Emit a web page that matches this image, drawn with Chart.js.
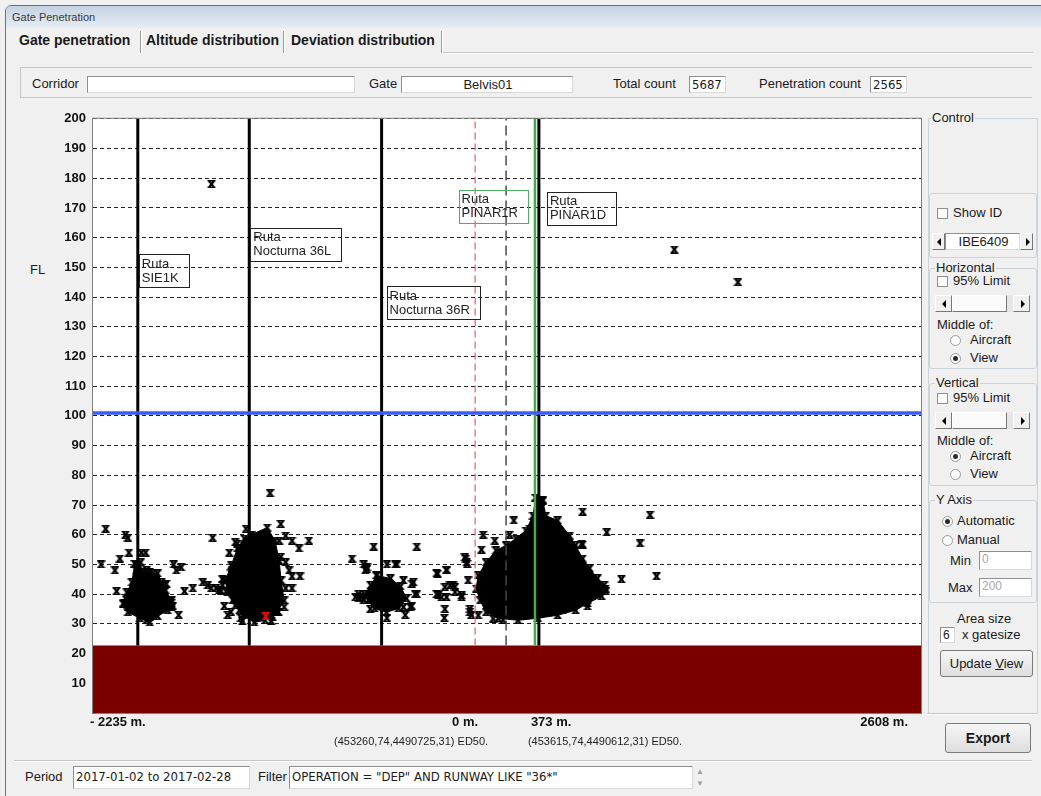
<!DOCTYPE html>
<html>
<head>
<meta charset="utf-8">
<script src="https://cdn.jsdelivr.net/npm/chart.js@4.4.1/dist/chart.umd.min.js"></script>
<style>
  html, body { margin: 0; padding: 0; }
  body { width: 1041px; height: 796px; overflow: hidden; background: #f0f0f0; position: relative;
         font-family: 'Liberation Sans', Arial, sans-serif; color: #1a1a1a; }
  .t { position: absolute; font-size: 13px; line-height: 16px; white-space: nowrap; }
  .b { font-weight: bold; }
  .n { font-family: 'Liberation Sans Narrow', 'DejaVu Sans Condensed', sans-serif; }
  .box { position: absolute; background: #fff; border: 1px solid #8f8f8f; border-right-color: #d8d8d8;
         border-bottom-color: #d8d8d8; box-sizing: border-box; font-size: 12px; line-height: 15px;
         white-space: nowrap; overflow: hidden; padding-left: 2px; }
  .grp { position: absolute; border: 1px solid #cdd4d9; border-radius: 3px; box-sizing: border-box; }
  .leg { position: absolute; background: #f0f0f0; font-size: 13px; line-height: 14px; padding: 0 1px; }
  .sep { position: absolute; width: 0; border-left: 1px solid #9a9a9a; border-right: 1px solid #fff; }
  .chk { position: absolute; width: 11px; height: 11px; background: #fff; border: 1px solid #8e8f8f; box-sizing: border-box; }
  .rad { position: absolute; width: 11px; height: 11px; border-radius: 50%; background: #fbfbfb;
         border: 1px solid #9a9a9a; box-sizing: border-box; }
  .rad.on::after { content: ''; position: absolute; left: 2px; top: 2px; width: 5px; height: 5px;
                   border-radius: 50%; background: #2b2b2b; }
  .btn { position: absolute; box-sizing: border-box; border: 1px solid #7a7a7a; border-radius: 3px;
         background: linear-gradient(#f6f6f6, #dedede); text-align: center; }
  .arr { position: absolute; box-sizing: border-box; background: #f0f0f0; border: 1px solid #fff;
         border-right-color: #777; border-bottom-color: #777; }
  .arr i { position: absolute; top: 50%; left: 50%; width: 0; height: 0; margin-top: -4px;
           border-top: 4px solid transparent; border-bottom: 4px solid transparent; }
  .arr i.l { margin-left: -2px; border-right: 4px solid #000; }
  .arr i.r { margin-left: -1px; border-left: 4px solid #000; }
  .hl { position: absolute; height: 0; border-top: 1px solid #c5c5c5; border-bottom: 1px solid #fff; }
  #chartBox { position: absolute; left: 20px; top: 104px; width: 906px; height: 654px; }
</style>
</head>
<body>
<!-- window frame and title -->
<div style="position:absolute;left:5px;top:5px;width:1040px;height:795px;border:1px solid #6a7480;border-top-left-radius:6px;box-sizing:border-box;"></div>
<div style="position:absolute;left:6px;top:6px;width:1035px;height:22px;border-top-left-radius:5px;background:linear-gradient(#c4d2e2,#e6ecf3);"></div>
<div class="t" style="left:12px;top:9px;font-size:11px;color:#3a3a3a;">Gate Penetration</div>

<!-- tabs -->
<div class="t b" style="left:19px;top:32px;font-size:14px;">Gate penetration</div>
<div class="sep" style="left:140px;top:31px;height:22px;"></div>
<div class="t b" style="left:146px;top:32px;font-size:14px;">Altitude distribution</div>
<div class="sep" style="left:283px;top:31px;height:22px;"></div>
<div class="t b" style="left:291px;top:32px;font-size:14px;">Deviation distribution</div>
<div class="sep" style="left:441px;top:31px;height:22px;"></div>
<div class="hl" style="left:443px;top:52px;width:590px;"></div>

<!-- header fields -->
<div style="position:absolute;left:20px;top:67px;width:1012px;height:31px;border:1px solid #c8c8c8;border-right:none;box-sizing:border-box;"></div>
<div class="t" style="left:32px;top:76px;">Corridor</div>
<div class="box" style="left:87px;top:76px;width:268px;height:17px;"></div>
<div class="t" style="left:369px;top:76px;">Gate</div>
<div class="box" style="left:401px;top:76px;width:172px;height:17px;text-align:center;font-size:13px;">Belvis01</div>
<div class="t" style="left:613px;top:76px;">Total count</div>
<div class="box n" style="left:689px;top:76px;width:37px;height:17px;font-size:13px;">5687</div>
<div class="t" style="left:759px;top:76px;">Penetration count</div>
<div class="box n" style="left:870px;top:76px;width:37px;height:17px;font-size:13px;">2565</div>

<div class="t" style="left:30px;top:262px;">FL</div>

<div id="chartBox"><canvas id="gateChart" width="906" height="654"></canvas></div>

<!-- control panel -->
<div class="grp" style="left:928px;top:118px;width:110px;height:596px;border-radius:0;"></div>
<div class="leg" style="left:931px;top:111px;">Control</div>

<div class="grp" style="left:929px;top:193px;width:108px;height:65px;"></div>
<div class="chk" style="left:937px;top:208px;"></div>
<div class="t" style="left:953px;top:205px;">Show ID</div>
<div class="arr" style="left:932px;top:233px;width:13px;height:17px;"><i class="l"></i></div>
<div class="box" style="left:945px;top:233px;width:75px;height:17px;text-align:center;font-size:13px;">IBE6409</div>
<div class="arr" style="left:1020px;top:233px;width:13px;height:17px;"><i class="r"></i></div>

<div class="grp" style="left:929px;top:268px;width:108px;height:101px;"></div>
<div class="leg" style="left:935px;top:261px;">Horizontal</div>
<div class="chk" style="left:937px;top:276px;"></div>
<div class="t" style="left:953px;top:273px;">95% Limit</div>
<div class="arr" style="left:935px;top:295px;width:17px;height:17px;"><i class="l"></i></div>
<div class="arr" style="left:952px;top:295px;width:55px;height:17px;background:#fafafa;"></div>
<div style="position:absolute;left:1007px;top:295px;width:6px;height:17px;background:#e6e6e6;"></div>
<div class="arr" style="left:1013px;top:295px;width:17px;height:17px;"><i class="r"></i></div>
<div class="t" style="left:937px;top:317px;">Middle of:</div>
<div class="rad" style="left:950px;top:335px;"></div>
<div class="t" style="left:970px;top:332px;">Aircraft</div>
<div class="rad on" style="left:950px;top:353px;"></div>
<div class="t" style="left:970px;top:350px;">View</div>

<div class="grp" style="left:929px;top:383px;width:108px;height:103px;"></div>
<div class="leg" style="left:935px;top:376px;">Vertical</div>
<div class="chk" style="left:937px;top:393px;"></div>
<div class="t" style="left:953px;top:390px;">95% Limit</div>
<div class="arr" style="left:935px;top:412px;width:17px;height:17px;"><i class="l"></i></div>
<div class="arr" style="left:952px;top:412px;width:55px;height:17px;background:#fafafa;"></div>
<div style="position:absolute;left:1007px;top:412px;width:6px;height:17px;background:#e6e6e6;"></div>
<div class="arr" style="left:1013px;top:412px;width:17px;height:17px;"><i class="r"></i></div>
<div class="t" style="left:937px;top:433px;">Middle of:</div>
<div class="rad on" style="left:950px;top:451px;"></div>
<div class="t" style="left:970px;top:448px;">Aircraft</div>
<div class="rad" style="left:950px;top:469px;"></div>
<div class="t" style="left:970px;top:466px;">View</div>

<div class="grp" style="left:929px;top:500px;width:108px;height:103px;"></div>
<div class="leg" style="left:935px;top:493px;">Y Axis</div>
<div class="rad on" style="left:942px;top:516px;"></div>
<div class="t" style="left:957px;top:513px;">Automatic</div>
<div class="rad" style="left:942px;top:535px;"></div>
<div class="t" style="left:957px;top:532px;">Manual</div>
<div class="t" style="left:950px;top:553px;">Min</div>
<div class="box" style="left:979px;top:551px;width:53px;height:19px;color:#a8a8a8;">0</div>
<div class="t" style="left:948px;top:580px;">Max</div>
<div class="box" style="left:979px;top:578px;width:53px;height:19px;color:#a8a8a8;">200</div>

<div class="t" style="left:957px;top:611px;">Area size</div>
<div class="box" style="left:940px;top:627px;width:15px;height:16px;">6</div>
<div class="t" style="left:962px;top:627px;">x gatesize</div>
<div class="btn t" style="left:940px;top:650px;width:93px;height:27px;line-height:25px;">Update <u>V</u>iew</div>
<div class="hl" style="left:927px;top:713px;width:110px;"></div>

<div class="btn t b" style="left:945px;top:723px;width:86px;height:30px;line-height:28px;font-size:14px;">Export</div>

<!-- bottom filter row -->
<div class="hl" style="left:14px;top:760px;width:1018px;"></div>
<div class="t" style="left:25px;top:769px;">Period</div>
<div class="box n" style="left:73px;top:766px;width:177px;height:23px;line-height:20px;font-size:13px;">2017-01-02 to 2017-02-28</div>
<div class="t" style="left:258px;top:769px;">Filter</div>
<div class="box n" style="left:289px;top:766px;width:404px;height:23px;line-height:20px;font-size:13px;">OPERATION = "DEP" AND RUNWAY LIKE "36*"</div>
<div class="t" style="left:696px;top:764px;font-size:8px;color:#a0a0a0;">&#9650;</div>
<div class="t" style="left:696px;top:776px;font-size:8px;color:#a0a0a0;">&#9660;</div>

<script>
// axis extent (metres from gate, flight level)
const xMin = -2235;
const xMax = 2608;
const flMax = 200;
const xTickValues = [-2235, 0, 373, 2608];
const xTickLabels = ['- 2235 m.', '0 m.', '373 m.', '2608 m.'];
const gateCoords = ['(453260,74,4490725,31) ED50.', '(453615,74,4490612,31) ED50.'];

// terrain / limits
const groundFL = 22.7;
const limitFL = 101;

// route centre lines
const routeNames = ['SIE1K', 'Nocturna 36L', 'Nocturna 36R', 'PINAR1R', 'PINAR1D'];
const routeX = [-1973, -1321, -547, 350, 373];
const routeLabelFL = [154.4, 163.4, 143.6, 176.2, 175.5];
const gateX = 0;
const gateMidX = 181;

// dense cores of the penetration clusters (outline, metres / FL)
const coreSIE = [[-1990, 50.3], [-1956, 50.7], [-1950, 47.3], [-1857, 47], [-1834, 44], [-1810, 41.3],
  [-1775, 37.9], [-1798, 34.6], [-1857, 32.6], [-1903, 30.5], [-1961, 31.9], [-2031, 33.9],
  [-2055, 36.9], [-2037, 40.6], [-2008, 44]];
const core36L = [[-1310, 60], [-1216, 62.4], [-1170, 58], [-1146, 51.3], [-1135, 44.6], [-1117, 37.9],
  [-1158, 33.9], [-1228, 31.2], [-1292, 30.5], [-1356, 32.9], [-1403, 36.2], [-1449, 40.6],
  [-1461, 44.6], [-1426, 49.7], [-1391, 55.4], [-1350, 58.7]];
const core36R = [[-576, 46.3], [-495, 45.3], [-436, 42.6], [-401, 38.6], [-448, 35.2], [-518, 33.9],
  [-588, 35.2], [-623, 37.9], [-646, 39.9], [-611, 43]];
const corePINAR = [[355, 72.5], [396, 71.5], [414, 66.4], [483, 64.8], [553, 59.7], [588, 56.4],
  [629, 52], [670, 48.7], [716, 45.3], [763, 41.9], [740, 39.3], [658, 36.9], [588, 34.6],
  [483, 32.9], [367, 31.9], [251, 31.2], [134, 31.9], [64, 33.9], [29, 37.9], [6, 41.9],
  [18, 46.3], [64, 50.7], [122, 54.7], [181, 56.4], [239, 58.7], [297, 61.4], [338, 66.4]];

// individual penetrations outside the cores
const penetrations = [
  [-2161, 62], [-2188, 50], [-2107, 48], [-2097, 41], [-2078, 52], [-2045, 60], [-2031, 59], [-2025, 54],
  [-1952, 54], [-1927, 54], [-1763, 50], [-1748, 48], [-1719, 49], [-1734, 33], [-1700, 41], [-1651, 42],
  [-1816, 43], [-1777, 37], [-1768, 36], [-2039, 38], [-2030, 35.7], [-2059, 36.8], [-1922, 31.2],
  [-1903, 32.3], [-1787, 38], [-1777, 35.7], [-1845, 41.3], [-1806, 43.5], [-1942, 46.9], [-1922, 48],
  [-1903, 47.4], [-1884, 47], [-1981, 48],
  [-1593, 44], [-1564, 43], [-1544, 42], [-1515, 42], [-1496, 41.5], [-1477, 43], [-1486, 41], [-1457, 41],
  [-1535, 59], [-1438, 54], [-1467, 36], [-1447, 33],
  [-1403, 57.5], [-1391, 57], [-1340, 62], [-1428, 47], [-1420, 48], [-1479, 45], [-1428, 34], [-1370, 32],
  [-1362, 31], [-1199, 74], [-1137, 63.6], [-1108, 59.7], [-1071, 58], [-1030, 55.4], [-972, 58],
  [-1024, 46], [-1108, 42], [-1071, 42], [-1117, 35.7], [-1150, 34], [-1071, 46], [-1088, 48], [-1108, 50.7],
  [-1193, 31], [-1379, 52.5], [-1399, 49], [-1409, 43.5], [-1418, 38], [-1379, 34.6], [-1146, 58],
  [-1137, 52.5], [-1156, 38], [-1185, 32.3],
  [-720, 52], [-700, 39], [-681, 38.6], [-652, 38], [-642, 48], [-632, 49], [-593, 56], [-613, 35],
  [-467, 50], [-419, 44.6], [-370, 43.5], [-419, 35.7], [-370, 36], [-409, 33], [-351, 40], [-341, 56],
  [-516, 50], [-457, 50], [-361, 44], [-225, 47], [-167, 48], [-681, 40], [-662, 39], [-623, 38],
  [-516, 32], [-380, 35.7], [-341, 40], [-225, 40], [-196, 39], [-167, 39], [-177, 42.4], [-128, 43],
  [-118, 40.7], [-177, 35], [-180, 32], [-79, 39.6], [-60, 52.4], [-50, 50.7], [-41, 44.6], [-31, 35],
  [-22, 33], [-652, 50], [-633, 48.5],
  [396, 71.7], [629, 67.8], [1023, 66.7], [226, 64.8], [319, 62], [770, 60.8], [47, 60], [202, 60],
  [965, 57.1], [115, 58], [37, 55], [629, 56.7], [623, 57], [-54, 52], [-46, 50.2], [-167, 48.2],
  [-219, 46.9], [856, 45], [1061, 46], [755, 43], [765, 41], [-215, 39.6], [-147, 43], [-118, 42.4],
  [-79, 39], [-31, 34], [18, 32.9], [658, 35.9], [512, 34.8], [105, 31.8], [163, 31.4], [270, 32.5],
  [-1542, 178], [1165, 156], [1537, 145]
];
const flaggedPenetration = [[-1224, 32.5]];

const toXY = arr => arr.map(p => ({ x: p[0], y: p[1] }));
const closed = arr => toXY(arr.concat([arr[0]]));

function makeMarker(color) {
    const c = document.createElement('canvas');
    c.width = 9;
    c.height = 8;
    const g = c.getContext('2d');
    g.strokeStyle = color;
    g.lineWidth = 1.5;
    g.beginPath();
    g.moveTo(0.5, 0.75); g.lineTo(8.5, 0.75);
    g.moveTo(0.5, 7.25); g.lineTo(8.5, 7.25);
    g.stroke();
    g.lineWidth = 2;
    g.beginPath();
    g.moveTo(2, 1); g.lineTo(7, 7);
    g.moveTo(7, 1); g.lineTo(2, 7);
    g.stroke();
    return c;
}
const blackMark = makeMarker('#000');
const redMark = makeMarker('#e01010');

function vline(x) {
    return [{ x: x, y: groundFL }, { x: x, y: flMax }];
}

function core(data) {
    return {
        type: 'line', data: closed(data), fill: 'shape', backgroundColor: '#000',
        borderColor: '#000', borderWidth: 1, tension: 0, order: 8,
        pointStyle: blackMark, pointRadius: 4
    };
}

// white plot background
const plotBg = {
    id: 'plotBg',
    beforeDraw(chart) {
        const a = chart.chartArea;
        chart.ctx.save();
        chart.ctx.fillStyle = '#fff';
        chart.ctx.fillRect(a.left, a.top, a.right - a.left, a.bottom - a.top);
        chart.ctx.restore();
    }
};

// axis labels, route name boxes and frame
const decor = {
    id: 'decor',
    afterDatasetsDraw(chart) {
        const ctx = chart.ctx;
        const xs = chart.scales.x;
        const ys = chart.scales.y;
        const a = chart.chartArea;
        ctx.save();
        ctx.strokeStyle = '#808080';
        ctx.lineWidth = 1;
        ctx.strokeRect(a.left - 0.5, a.top - 0.5, a.right - a.left + 1, a.bottom - a.top + 1);

        // route label boxes
        ctx.font = '13px "Liberation Sans", Arial, sans-serif';
        ctx.textBaseline = 'middle';
        ctx.textAlign = 'left';
        const dx = [1, 1, 5, null, 8];
        routeNames.forEach((name, i) => {
            const w = Math.max(ctx.measureText(name).width, ctx.measureText('Ruta').width) + 13;
            const lx = xs.getPixelForValue(routeX[i]);
            const left = dx[i] === null ? lx - 7 - w : lx + dx[i];
            const top = ys.getPixelForValue(routeLabelFL[i]);
            ctx.strokeStyle = i === 3 ? '#4fae5f' : '#222';
            ctx.strokeRect(Math.round(left) + 0.5, Math.round(top) + 0.5, Math.round(w), 33);
            ctx.fillStyle = '#222';
            ctx.fillText('Ruta', left + 3, top + 10);
            ctx.fillText(name, left + 3, top + 24);
        });

        // x tick labels
        ctx.font = 'bold 13px "Liberation Sans", Arial, sans-serif';
        ctx.fillStyle = '#111';
        const align = ['left', 'right', 'left', 'right'];
        const off = [-3, 3, -8, -13];
        xTickValues.forEach((v, i) => {
            ctx.textAlign = align[i];
            ctx.fillText(xTickLabels[i], xs.getPixelForValue(v) + off[i], a.bottom + 9);
        });
        ctx.font = '11px "Liberation Sans", Arial, sans-serif';
        ctx.fillStyle = '#222';
        ctx.textAlign = 'right';
        ctx.fillText(gateCoords[0], xs.getPixelForValue(0) + 13, a.bottom + 29);
        ctx.textAlign = 'left';
        ctx.fillText(gateCoords[1], xs.getPixelForValue(373) - 11, a.bottom + 29);
        ctx.restore();
    }
};

const gateCtx = document.getElementById('gateChart');
if (gateCtx) {
    new Chart(gateCtx, {
        type: 'scatter',
        data: {
            datasets: [
                {
                    type: 'line',
                    data: [{ x: xMin, y: groundFL }, { x: xMax, y: groundFL }],
                    fill: 'origin',
                    backgroundColor: '#7a0000',
                    borderWidth: 0,
                    pointRadius: 0,
                    order: 10
                },
                core(coreSIE),
                core(core36L),
                core(core36R),
                core(corePINAR),
                {
                    data: toXY(penetrations),
                    pointStyle: blackMark,
                    pointRadius: 4,
                    order: 6
                },
                {
                    data: toXY(flaggedPenetration),
                    pointStyle: redMark,
                    pointRadius: 4,
                    order: 5
                },
                {
                    type: 'line', data: vline(gateX), borderColor: '#e0605c', borderWidth: 1.2,
                    borderDash: [7, 4], pointRadius: 0, order: 4
                },
                {
                    type: 'line', data: vline(gateMidX), borderColor: '#4a4a4a', borderWidth: 1.5,
                    borderDash: [10, 5], pointRadius: 0, order: 4
                },
                ...routeX.map((x, i) => ({
                    type: 'line',
                    data: vline(x),
                    borderColor: i === 3 ? '#3fae4a' : '#000',
                    borderWidth: i === 3 ? 2.5 : 3,
                    pointRadius: 0,
                    order: 3
                })),
                {
                    type: 'line',
                    data: [{ x: xMin, y: limitFL }, { x: xMax, y: limitFL }],
                    borderColor: '#3a5cff',
                    borderWidth: 3.5,
                    pointRadius: 0,
                    order: 1
                }
            ]
        },
        options: {
            responsive: false,
            animation: false,
            devicePixelRatio: 1,
            layout: {
                padding: { left: 0, right: 1, top: 13, bottom: 45 }
            },
            scales: {
                x: {
                    type: 'linear',
                    min: xMin,
                    max: xMax,
                    display: false
                },
                y: {
                    min: 0,
                    max: flMax,
                    afterFit: function (scale) { scale.width = 73; },
                    grid: {
                        color: '#222',
                        lineWidth: 1,
                        drawTicks: false
                    },
                    border: {
                        display: false,
                        dash: [4, 3]
                    },
                    ticks: {
                        stepSize: 10,
                        padding: 7,
                        color: '#111',
                        font: { family: '"Liberation Sans", Arial, sans-serif', size: 13, weight: 'bold' },
                        callback: v => (v === 0 ? '' : v)
                    }
                }
            },
            plugins: {
                legend: { display: false },
                tooltip: { enabled: false }
            }
        },
        plugins: [plotBg, decor]
    });
}
</script>
</body>
</html>
